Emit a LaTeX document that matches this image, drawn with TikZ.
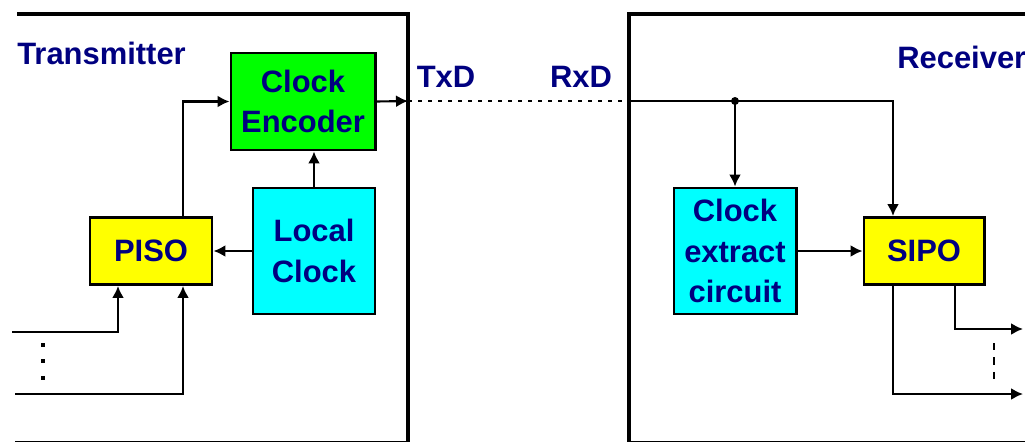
\documentclass[tikz,border=0pt]{standalone}
\usepackage{fontspec}
\setmainfont{Liberation Sans}
\usetikzlibrary{arrows.meta,positioning}
\definecolor{navytext}{HTML}{000080}
\definecolor{litegreen}{HTML}{00FF00}
\definecolor{litecyan}{HTML}{00FFFF}
\definecolor{liteyellow}{HTML}{FFFF00}

\begin{document}
\begin{tikzpicture}[x=0.025cm, y=-0.025cm,
    box/.style={rectangle, draw=black, line width=2.1pt, text=navytext,
                font=\bfseries\fontsize{22}{29}\selectfont, align=center, inner sep=0pt},
    lbl/.style={text=navytext, font=\bfseries\fontsize{22}{29}\selectfont, inner sep=0pt},
    arr/.style={-{Latex[length=0.3cm,width=0.3cm]}, line width=1.5pt},
    frame/.style={line width=3.2pt},
    edge/.style={line width=0.6pt}
  ]
  \useasboundingbox (0,0) rectangle (1025,442);

  % frames
  \draw[frame] (17,14) -- (408,14) -- (408,442);
  \draw[edge] (15,441) -- (408,441);
  \draw[frame] (1025,14) -- (629,14) -- (629,442);
  \draw[edge] (629,441) -- (1025,441);

  \node[lbl, anchor=west] (tx) at (17,53) {Transmitter};
  \node[lbl, anchor=west] (rx) at (897,57) {Receiver};
  \node[lbl] (txdl) at (446,77) {TxD};
  \node[lbl] (rxdl) at (581,77) {RxD};

  % transmitter side
  \node[box, fill=litegreen, minimum width=3.6cm, minimum height=2.425cm] (enc) at (303,101.5) {Clock\\Encoder};
  \node[box, fill=litecyan, minimum width=3.05cm, minimum height=3.15cm] (lclk) at (314,251) {Local\\Clock};
  \node[box, fill=liteyellow, minimum width=3.05cm, minimum height=1.675cm] (piso) at (151,251) {PISO};

  % receiver side
  \node[box, fill=litecyan, minimum width=3.05cm, minimum height=3.15cm] (clx) at (735,251) {Clock\\extract\\circuit};
  \node[box, fill=liteyellow, minimum width=3.0cm, minimum height=1.675cm] (sipo) at (924,251) {SIPO};

  \coordinate (txd) at (408,101);
  \coordinate (rxd) at (629,101);
  \coordinate (jn) at (735,101);
  \coordinate (in1) at (12,332);
  \coordinate (in2) at (15,394);
  \coordinate (out1) at (1023,329);
  \coordinate (out2) at (1023,394);

  \draw[arr] (lclk.north) -- (lclk.north |- enc.south);
  \draw[arr] (lclk.west) -- (piso.east);
  \draw[arr] ([xshift=0.8cm]piso.north) |- (enc.west);
  \draw[arr] (in1) -| ([xshift=-0.825cm]piso.south);
  \draw[arr] (in2) -| ([xshift=0.8cm]piso.south);
  \draw[line width=2.5pt, dash pattern=on 0.1cm off 0.31cm] (43,343) -- (43,381);

  \draw[arr] (enc.east) -- (txd);
  \draw[line width=1.5pt, dash pattern=on 0.1cm off 0.15cm] (txd) -- (rxd);
  \draw[arr] (rxd) -| ([xshift=-0.775cm]sipo.north);
  \fill (jn) circle (0.1cm);
  \draw[arr] (jn) -- (clx.north);
  \draw[arr] (clx.east) -- (sipo.west);
  \draw[arr] ([xshift=0.775cm]sipo.south) |- (out1);
  \draw[arr] ([xshift=-0.775cm]sipo.south) |- (out2);
  \draw[line width=1.5pt, dash pattern=on 0.18cm off 0.18cm] (994,343) -- (994,382);
\end{tikzpicture}
\end{document}
